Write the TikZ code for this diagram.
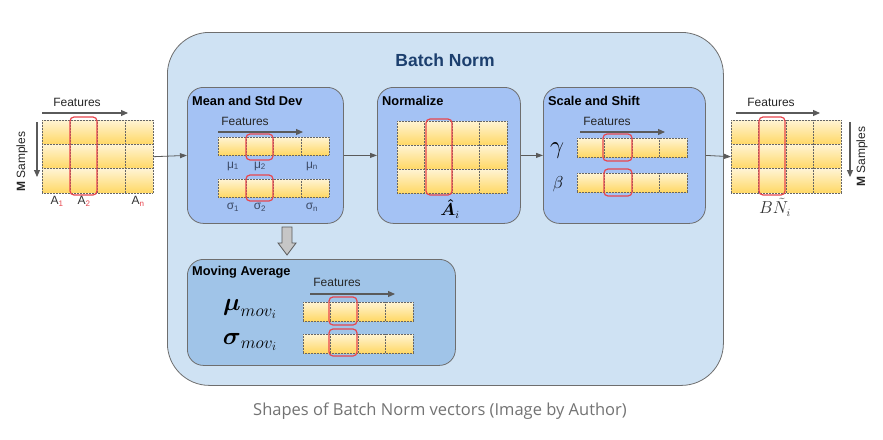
\documentclass[tikz,border=0pt]{standalone}
\usepackage{amsmath}
\usepackage{fontspec}
\setmainfont{Liberation Sans}
\newfontfamily\capfont{Open Sans}
\usetikzlibrary{arrows.meta}
\definecolor{outerfill}{HTML}{CFE2F3}
\definecolor{innerfill}{HTML}{A4C2F4}
\definecolor{movfill}{HTML}{A0C4E8}
\definecolor{boxline}{HTML}{6E6E6E}
\definecolor{celltop}{HTML}{FFF4D4}
\definecolor{cellbot}{HTML}{FFD865}
\definecolor{hired}{HTML}{E8464E}
\definecolor{arrowc}{HTML}{5A5A5A}
\definecolor{titleblue}{HTML}{1C3F6E}
\definecolor{labc}{HTML}{3C4A66}
\tikzset{
  outerbox/.style={draw=boxline, line width=0.8pt, fill=outerfill, rounded corners=42pt, inner sep=0pt, anchor=north west},
  innerbox/.style={draw=boxline, line width=0.8pt, fill=innerfill, rounded corners=16pt, inner sep=0pt, anchor=north west},
  movbox/.style={draw=boxline, line width=0.8pt, fill=movfill, rounded corners=16pt, inner sep=0pt, anchor=north west},
  boxtitle/.style={font=\fontsize{12.8}{14}\selectfont\bfseries, anchor=west, inner sep=0pt},
  feat/.style={font=\fontsize{12}{14}\selectfont, inner sep=0pt, text=black!85},
  featarrow/.style={draw=arrowc, line width=1.1pt, -{Triangle[length=7pt,width=6pt]}},
  flow/.style={draw=arrowc, line width=0.8pt, -{Triangle[length=7pt,width=5pt]}},
  redsel/.style={draw=hired, line width=1.2pt, rounded corners=4pt},
  gridline/.style={draw=gray!80!black, line width=0.5pt, densely dotted},
  mlab/.style={font=\fontsize{12}{14}\selectfont, text=labc, inner sep=0pt},
  region/.style={inner sep=0pt, anchor=north west},
  blockarrow/.style={draw=arrowc, fill=gray!45, line width=0.8pt, line join=miter}
}
% #1 x0, #2 y0, #3 cols, #4 rows, #5 cw, #6 ch
\newcommand{\mymat}[6]{%
  \foreach \i in {1,...,#3}{\foreach \j in {1,...,#4}{%
    \shade[top color=celltop, bottom color=cellbot]
      ({#1+(\i-1)*#5},{#2+(\j-1)*#6}) rectangle ++(#5,#6);
  }}%
  \foreach \i in {0,...,#3}{\draw[gridline] ({#1+\i*#5},#2) -- ++(0,{#4*#6});}%
  \foreach \j in {0,...,#4}{\draw[gridline] (#1,{#2+\j*#6}) -- ++({#3*#5},0);}%
}
\begin{document}
\begin{tikzpicture}[x=1pt,y=-1pt]
\useasboundingbox[fill=white] (0,0) rectangle (883,439);

% outer box
\node[outerbox, minimum width=556pt, minimum height=353pt] (bn) at (167,32) {};
\node[font=\fontsize{17.5}{20}\selectfont\bfseries, text=titleblue] (bntitle) at (445,60) {Batch Norm};

% inner boxes
\node[innerbox, minimum width=156pt, minimum height=136pt] (mean) at (187,87) {};
\node[innerbox, minimum width=143pt, minimum height=136pt] (norm) at (377,87) {};
\node[innerbox, minimum width=162pt, minimum height=136pt] (scale) at (543,87) {};
\node[movbox, minimum width=268pt, minimum height=106pt] (mov) at (187,259) {};

\node[boxtitle] (meant) at (192,101) {Mean and Std Dev};
\node[boxtitle] (normt) at (382,101) {Normalize};
\node[boxtitle] (scalet) at (548,101) {Scale and Shift};
\node[boxtitle] (movt) at (192,272) {Moving Average};

% block arrow mean -> moving average
\draw[blockarrow] (282,227) -- (292,227) -- (292,243) -- (296,243) -- (287,255)
  -- (278,243) -- (282,243) -- cycle;

% ---------- input matrix ----------
\node[region, minimum width=111pt, minimum height=73pt] (inmat) at (42,120) {};
\mymat{42}{120}{4}{3}{27.75}{24.3}
\draw[redsel] (70,117) rectangle (97,195);
\node[feat] (infeat) at (77,102) {Features};
\coordinate (infa) at (42,113);
\coordinate (infb) at (128,113);
\draw[featarrow] (infa) -- (infb);
\coordinate (insa) at (37,122);
\coordinate (insb) at (37,177);
\draw[featarrow] (insa) -- (insb);
\node[feat, rotate=90, anchor=west] (insam) at (22,192) {\textbf{M} Samples};
\node[feat, text=black!80] (a1) at (57,201) {A\textsubscript{\textcolor{hired}{1}}};
\node[feat, text=black!80] (a2) at (84,201) {A\textsubscript{\textcolor{hired}{2}}};
\node[feat, text=black!80] (an) at (138,201) {A\textsubscript{\textcolor{hired}{n}}};

% ---------- mean & std ----------
\node[feat] (mfeat) at (245,121) {Features};
\coordinate (mfa) at (218,132);
\coordinate (mfb) at (303,132);
\draw[featarrow] (mfa) -- (mfb);
\mymat{218}{137}{4}{1}{27.75}{18}
\draw[redsel] (246,134) rectangle (273,160);
\node[mlab] (mu1) at (233,166) {μ\textsubscript{1}};
\node[mlab] (mu2) at (260,166) {μ\textsubscript{2}};
\node[mlab] (mun) at (312,166) {μ\textsubscript{n}};
\mymat{218}{179}{4}{1}{27.75}{18}
\draw[redsel] (246,175) rectangle (273,201);
\node[mlab] (s1) at (233,207) {σ\textsubscript{1}};
\node[mlab] (s2) at (260,207) {σ\textsubscript{2}};
\node[mlab] (sn) at (312,207) {σ\textsubscript{n}};

% ---------- normalize ----------
\node[region, minimum width=110pt, minimum height=72pt] (nmat) at (397,121) {};
\mymat{397}{121}{4}{3}{27.5}{24}
\draw[redsel] (426,119) rectangle (452,195);
\node[inner sep=0pt, font=\fontsize{16}{18}\selectfont] (ahat) at (450,209) {$\boldsymbol{\hat{A}}_i$};

% ---------- scale & shift ----------
\node[feat] (sfeat) at (607,121) {Features};
\coordinate (sfa) at (580,132);
\coordinate (sfb) at (665,132);
\draw[featarrow] (sfa) -- (sfb);
\node[inner sep=0pt, font=\fontsize{29}{31}\selectfont] (gam) at (557,151) {$\gamma$};
\node[inner sep=0pt, font=\fontsize{19}{21}\selectfont] (bet) at (558,184) {$\beta$};
\mymat{577}{138}{4}{1}{27.5}{19}
\draw[redsel] (603,134) rectangle (632,161);
\mymat{577}{173}{4}{1}{27.5}{19}
\draw[redsel] (604,169) rectangle (632,196);

% ---------- moving average ----------
\node[feat] (mvfeat) at (337,282) {Features};
\coordinate (mvfa) at (310,294);
\coordinate (mvfb) at (395,294);
\draw[featarrow] (mvfa) -- (mvfb);
\node[inner sep=0pt, font=\fontsize{25}{27}\selectfont] (mumov) at (250,309) {$\boldsymbol{\mu}_{mov_i}$};
\node[inner sep=0pt, font=\fontsize{25}{27}\selectfont] (sgmov) at (250,342) {$\boldsymbol{\sigma}_{mov_i}$};
\mymat{303}{302}{4}{1}{27.5}{19}
\draw[redsel] (329,297) rectangle (357,325);
\mymat{303}{334}{4}{1}{27.5}{19}
\draw[redsel] (329,329) rectangle (357,356);

% ---------- output matrix ----------
\node[region, minimum width=110pt, minimum height=73pt] (omat) at (731,120) {};
\mymat{731}{120}{4}{3}{27.5}{24.3}
\draw[redsel] (759,117) rectangle (785,195);
\node[feat] (ofeat) at (771,102) {Features};
\coordinate (ofa) at (736,113);
\coordinate (ofb) at (820,113);
\draw[featarrow] (ofa) -- (ofb);
\coordinate (osa) at (850,122);
\coordinate (osb) at (850,177);
\draw[featarrow] (osa) -- (osb);
\node[feat, rotate=90, anchor=west] (osam) at (862,187) {\textbf{M} Samples};
\node[inner sep=0pt, font=\fontsize{16}{18}\selectfont, text=black!80] (bnlab) at (775,207) {$B\tilde{N}_i$};

% ---------- flow arrows ----------
\draw[flow] (inmat.east) -- (mean.west);
\draw[flow] (mean.east) -- (norm.west);
\draw[flow] (norm.east) -- (scale.west);
\draw[flow] (scale.east) -- (omat.west);

% caption
\node[font=\capfont\fontsize{16.5}{19}\selectfont, text=black!55] (cap) at (440,411) {Shapes of Batch Norm vectors (Image by Author)};
\end{tikzpicture}
\end{document}
